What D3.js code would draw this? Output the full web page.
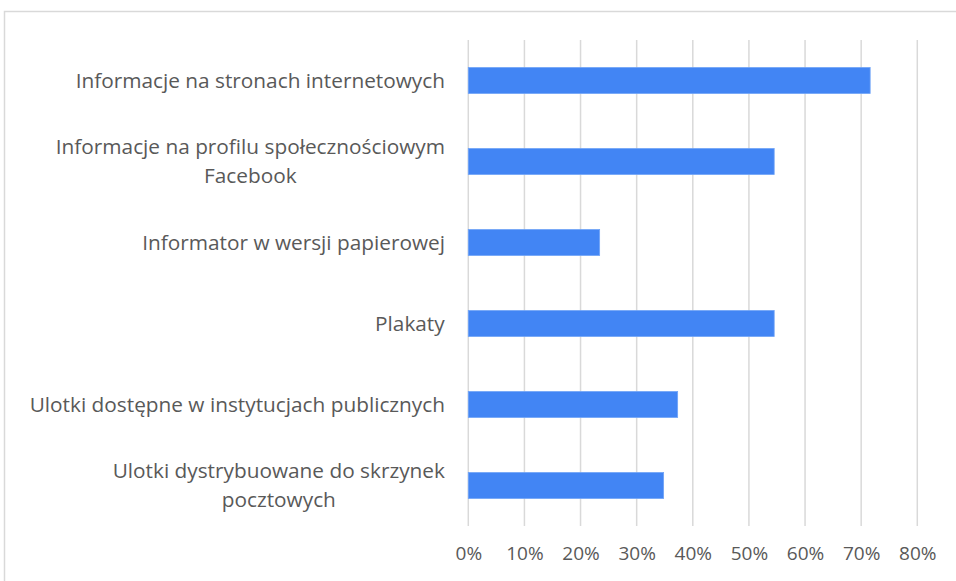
<!DOCTYPE html>
<html><head><meta charset="utf-8">
<script src="https://cdn.jsdelivr.net/npm/d3@7"></script>
<style>html,body{margin:0;padding:0;background:#fff;}svg{display:block;}</style>
</head><body>
<svg id="c" width="956" height="581"></svg>
<script>
const categories = [
  ["Informacje na stronach internetowych"],
  ["Informacje na profilu społecznościowym", "Facebook"],
  ["Informator w wersji papierowej"],
  ["Plakaty"],
  ["Ulotki dostępne w instytucjach publicznych"],
  ["Ulotki dystrybuowane do skrzynek", "pocztowych"]
];
const values = [0.716, 0.545, 0.234, 0.545, 0.373, 0.348];
const tickValues = [0, 0.1, 0.2, 0.3, 0.4, 0.5, 0.6, 0.7, 0.8];

const svg = d3.select("#c");
const font = "'Open Sans', sans-serif";
// chart border
svg.append("rect").attr("x", 4.5).attr("y", 11.5).attr("width", 980).attr("height", 600)
  .attr("fill", "none").attr("stroke", "#d9d9d9").attr("stroke-width", 1.5);

const x = d3.scaleLinear().domain([0, 0.8]).range([468.3, 917.3]);
const y = d3.scaleBand().domain(d3.range(categories.length)).range([40, 526]).paddingInner(0.68).paddingOuter(0.34);

// gridlines
svg.append("g").selectAll("line").data(tickValues).join("line")
  .attr("x1", d => x(d)).attr("x2", d => x(d)).attr("y1", 40).attr("y2", 526)
  .attr("stroke", "#d9d9d9").attr("stroke-width", 1.5);

// bars
svg.append("g").selectAll("rect").data(values).join("rect")
  .attr("x", x(0)).attr("y", (d, i) => y(i)).attr("width", d => x(d) - x(0)).attr("height", y.bandwidth())
  .attr("fill", "#4285f4").attr("stroke", "#6fa3f7").attr("stroke-width", 0.8);

// x axis
const xAxis = d3.axisBottom(x).tickValues(tickValues).tickFormat(d3.format(".0%")).tickSize(0).tickPadding(0);
const gx = svg.append("g").attr("transform", "translate(0,546)").call(xAxis);
gx.select(".domain").remove();
gx.selectAll("text").attr("font-family", font).attr("font-size", 19).attr("fill", "#595959").attr("dy", "0.71em");

// category labels
const lineH = 29;
const gl = svg.append("g");
categories.forEach((lines, i) => {
  const cy = y(i) + y.bandwidth() / 2;
  const t = gl.append("text").attr("font-family", font).attr("font-size", 20.8).attr("fill", "#595959")
    .attr("text-anchor", "middle");
  const y0 = cy - (lines.length - 1) * lineH / 2;
  lines.forEach((l, j) => t.append("tspan").attr("x", 0).attr("y", y0 + j * lineH).attr("dy", "0.35em").text(l));
  const w = t.node().getBBox().width;
  t.selectAll("tspan").attr("x", 445 - w / 2);
});
</script>
</body></html>
